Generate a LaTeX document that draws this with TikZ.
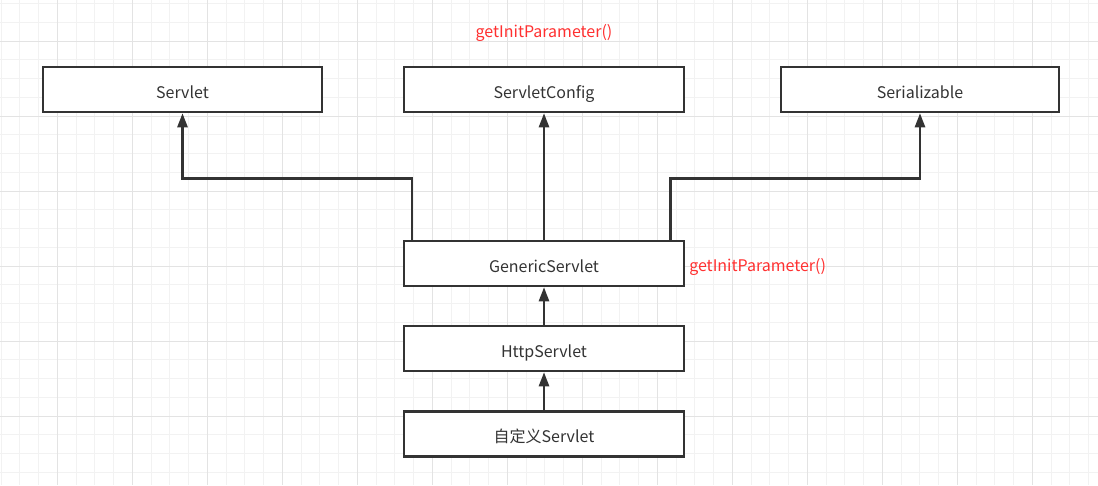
\documentclass[tikz,border=0pt]{standalone}
\usepackage{fontspec}
\setmainfont{Noto Sans CJK SC}
\usetikzlibrary{arrows.meta}
\definecolor{boxline}{HTML}{333333}
\definecolor{gridminor}{HTML}{F2F2F2}
\definecolor{gridmajor}{HTML}{E3E3E3}
\definecolor{methodred}{HTML}{FF3030}
\tikzset{
    classbox/.style = {draw = boxline, fill = white, line width = 2.5pt,
        minimum width = 279pt, minimum height = 45pt, inner sep = 0pt,
        text height = 17pt, text depth = 0pt,
        font = \fontsize{16}{18}\selectfont, text = boxline},
    method/.style = {text = methodred, inner sep = 0pt,
        font = \fontsize{16}{18}\selectfont}
}
\begin{document}
\begin{tikzpicture}[
        > = {Triangle[length = 14pt, width = 10pt]},
        line width = 2.5pt,
        x = 1pt, y = -1pt
    ]
        \useasboundingbox[fill = white] (0,0) rectangle (1098,485);
        % grid
        \foreach \k in {0,...,58}
            \draw[gridminor, line width = 1pt] (1+18.75*\k,0) -- (1+18.75*\k,485);
        \foreach \k in {0,...,25}
            \draw[gridminor, line width = 1pt] (0,3.5+18.75*\k) -- (1098,3.5+18.75*\k);
        \foreach \k in {0,...,14}
            \draw[gridmajor, line width = 1pt] (57.3+75*\k,0) -- (57.3+75*\k,485);
        \foreach \k in {0,...,6}
            \draw[gridmajor, line width = 1pt] (0,41+75*\k) -- (1098,41+75*\k);

        \node[classbox] (servlet) at (182.5,89.5) {Servlet};
        \node[classbox, minimum width = 280pt] (config) at (544,89.5) {ServletConfig};
        \node[classbox, minimum width = 278pt] (serial) at (920,89.5) {Serializable};
        \node[classbox, minimum width = 280pt] (generic) at (544,263.5) {GenericServlet};
        \node[classbox, minimum width = 280pt] (http) at (544,348.5) {HttpServlet};
        \node[classbox, minimum width = 280pt] (custom) at (544,434) {自定义Servlet};

        \node[method] (configmethod) at (544,33) {getInitParameter()};
        \node[method, anchor = west] (genericmethod) at (688,267) {getInitParameter()};

        \draw[->, boxline] ([xshift = 9pt]generic.north west) |- ([yshift = -65pt]servlet.south) -- (servlet.south);
        \draw[->, boxline] (generic.north) -- (config.south);
        \draw[->, boxline] ([xshift = -15pt]generic.north east) |- ([yshift = -65pt]serial.south) -- (serial.south);
        \draw[->, boxline] (http.north) -- (generic.south);
        \draw[->, boxline] (custom.north) -- (http.south);
    \end{tikzpicture}
\end{document}
